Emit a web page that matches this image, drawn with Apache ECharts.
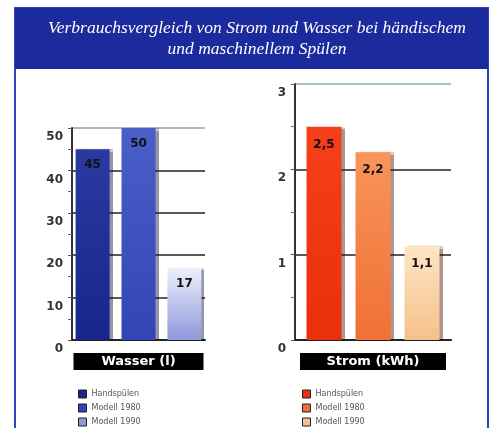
<!DOCTYPE html>
<html>
<head>
<meta charset="utf-8">
<script src="https://cdn.jsdelivr.net/npm/echarts@6/dist/echarts.min.js"></script>
<style>
  html, body { margin: 0; padding: 0; background: #fff; }
  #chart { width: 492px; height: 428px; }
</style>
</head>
<body>
<div id="chart"></div>
<script>
// Daten
var legendNames = ['Handspülen', 'Modell 1980', 'Modell 1990'];
var wasserValues = [45, 50, 17];
var stromValues = [2.5, 2.2, 1.1];
var wasserCategory = ['Wasser (l)'];
var stromCategory = ['Strom (kWh)'];

var wasserColors = [
  ['#2a3aa0', '#18258a'],
  ['#4a5ec8', '#3345b5'],
  ['#eef0fb', '#8e98dc']
];
var stromColors = [
  ['#f5401a', '#e8300c'],
  ['#f8945a', '#f07035'],
  ['#fde6c4', '#f6c08a']
];

var chart = echarts.init(document.getElementById('chart'));

function grad(c) {
  return new echarts.graphic.LinearGradient(0, 0, 0, 1, [
    { offset: 0, color: c[0] },
    { offset: 1, color: c[1] }
  ]);
}

// komma statt punkt
function deNum(v) {
  return String(v).replace('.', ',');
}

var series = [];
legendNames.forEach(function(n, i) {
  series.push({
    name: 'w|' + n,
    type: 'bar',
    xAxisIndex: 0,
    yAxisIndex: 0,
    barWidth: 34,
    barGap: '35%',
    data: [wasserValues[i]],
    itemStyle: {
      color: grad(wasserColors[i]),
      shadowColor: 'rgba(20,20,60,0.45)',
      shadowOffsetX: 3,
      shadowOffsetY: 0,
      shadowBlur: 1
    },
    label: {
      show: true,
      position: 'insideTop',
      distance: 10,
      color: '#111',
      fontFamily: 'DejaVu Sans',
      fontWeight: 'bold',
      fontSize: 12,
      formatter: function(p) { return deNum(p.value); }
    }
  });
});
legendNames.forEach(function(n, i) {
  series.push({
    name: 's|' + n,
    type: 'bar',
    xAxisIndex: 1,
    yAxisIndex: 1,
    barWidth: 35,
    barGap: '40%',
    data: [stromValues[i]],
    itemStyle: {
      color: grad(stromColors[i]),
      shadowColor: 'rgba(80,20,0,0.45)',
      shadowOffsetX: 3,
      shadowOffsetY: 0,
      shadowBlur: 1
    },
    label: {
      show: true,
      position: 'insideTop',
      distance: 12,
      color: '#111',
      fontFamily: 'DejaVu Sans',
      fontWeight: 'bold',
      fontSize: 12,
      formatter: function(p) { return deNum(p.value); }
    }
  });
});

function yAxisCfg(gridIdx, max, interval, splitColors) {
  return {
    type: 'value',
    gridIndex: gridIdx,
    min: 0,
    max: max,
    interval: interval,
    axisLine: { show: true, lineStyle: { color: '#333', width: 2 } },
    axisTick: { show: true, length: 4, lineStyle: { color: '#555' } },
    minorTick: { show: true, splitNumber: 2, length: 4, lineStyle: { color: '#666' } },
    splitLine: { show: true, lineStyle: { color: splitColors, width: 1.5 } },
    axisLabel: {
      color: '#333',
      fontFamily: 'DejaVu Sans',
      fontWeight: 'bold',
      fontSize: 12,
      margin: 9,
      verticalAlign: 'top',
      padding: [3, 0, 0, 0],
      formatter: function(v) { return deNum(v); }
    }
  };
}

function xAxisCfg(gridIdx, cats, boxWidth) {
  return {
    type: 'category',
    gridIndex: gridIdx,
    data: cats,
    axisLine: { show: true, lineStyle: { color: '#222', width: 2 } },
    axisTick: { show: false },
    axisLabel: {
      margin: 13,
      color: '#fff',
      backgroundColor: '#000',
      width: boxWidth,
      height: 17,
      lineHeight: 17,
      align: 'center',
      fontFamily: 'DejaVu Sans',
      fontWeight: 'bold',
      fontSize: 13
    }
  };
}

function legendCfg(left, prefix, colors) {
  return {
    left: left,
    top: 384,
    height: 60,
    orient: 'vertical',
    itemWidth: 8,
    itemHeight: 8,
    itemGap: 4,
    icon: 'rect',
    selectedMode: false,
    data: legendNames.map(function(n, i) {
      return {
        name: prefix + '|' + n,
        itemStyle: { color: colors[i][1], borderColor: '#222', borderWidth: 1 }
      };
    }),
    formatter: function(name) { return name.split('|')[1]; },
    textStyle: { color: '#555', fontSize: 8, lineHeight: 10, fontFamily: 'DejaVu Sans' }
  };
}

var option = {
  backgroundColor: '#fff',
  animation: false,
  graphic: [
    {
      type: 'rect',
      shape: { x: 15, y: 8, width: 473, height: 430 },
      style: { fill: '#fff', stroke: '#3344bb', lineWidth: 2 },
      z: -10
    },
    {
      type: 'rect',
      shape: { x: 15, y: 8, width: 473, height: 61 },
      style: { fill: '#1b2a9c' },
      z: -9
    }
  ],
  title: {
    text: 'Verbrauchsvergleich von Strom und Wasser bei händischem\nund maschinellem Spülen',
    left: 252,
    textAlign: 'center',
    top: 13,
    textStyle: {
      color: '#fff',
      fontFamily: 'Liberation Serif',
      fontStyle: 'italic',
      fontWeight: 'normal',
      fontSize: 17.5,
      lineHeight: 21
    }
  },
  grid: [
    { left: 72, top: 128, width: 133, height: 212 },
    { left: 295, top: 84, width: 156, height: 256 }
  ],
  xAxis: [
    xAxisCfg(0, wasserCategory, 130),
    xAxisCfg(1, stromCategory, 146)
  ],
  yAxis: [
    yAxisCfg(0, 50, 10, ['#222', '#222', '#222', '#222', '#222', '#8aa8a8']),
    yAxisCfg(1, 3, 1, ['#222', '#222', '#222', '#7fb5b5'])
  ],
  legend: [
    legendCfg(73, 'w', wasserColors),
    legendCfg(297, 's', stromColors)
  ],
  series: series
};

chart.setOption(option);
</script>
</body>
</html>
